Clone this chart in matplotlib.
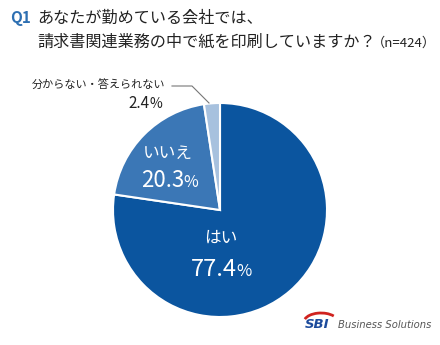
import matplotlib
matplotlib.use("Agg")
import matplotlib.pyplot as plt
from matplotlib.patches import Arc

plt.rcParams["font.family"] = ["Noto Sans CJK JP", "DejaVu Sans"]

labels = ["はい", "いいえ", "分からない・答えられない"]
shares = [77.4, 20.3, 2.4]
colors = ["#0b559f", "#3b77b6", "#a7c1de"]

W, H = 440, 345


def px(x, y):
    return x / W, 1 - y / H


fig = plt.figure(figsize=(W / 100, H / 100), dpi=100)
fig.patch.set_facecolor("white")

# pie: centre (220, 210), radius 107 px
cx, cy, r = 220, 210, 107
ax = fig.add_axes([(cx - r) / W, (H - cy - r) / H, 2 * r / W, 2 * r / H])
ax.pie(shares, colors=colors, startangle=90, counterclock=False,
       wedgeprops=dict(edgecolor="white", linewidth=1.5))
ax.set_xlim(-1, 1)
ax.set_ylim(-1, 1)
ax.set_aspect("equal")
ax.axis(False)

# title
fig.text(*px(10, 18), "Q1", color="#2d6fb2", fontsize=11, fontweight="bold", va="center")
fig.text(*px(37, 18), "あなたが勤めている会社では、", color="#222222", fontsize=11.6, va="center")
fig.text(*px(37, 42), "請求書関連業務の中で紙を印刷していますか？", color="#222222", fontsize=11.6, va="center")
fig.text(*px(372, 43), "（n=424）", color="#222222", fontsize=9.5, va="center")


def pct_label(x, y, value, color, big, small):
    fig.text(*px(x, y), f"{value:.1f}", color=color, fontsize=big, ha="right", va="baseline")
    fig.text(*px(x - 1, y), "%", color=color, fontsize=small, ha="left", va="baseline")


# in-slice labels
fig.text(*px(221, 238), labels[0], color="white", fontsize=12, ha="center", va="center")
pct_label(237, 276, shares[0], "white", 17, 12)
fig.text(*px(168, 153), labels[1], color="white", fontsize=12, ha="center", va="center")
pct_label(184, 187, shares[1], "white", 16, 11.5)

# small slice label with leader line
fig.text(*px(165, 85), labels[2], color="#222222", fontsize=8, ha="right", va="center")
pct_label(150, 108, shares[2], "#222222", 11, 10)
line_ax = fig.add_axes([0, 0, 1, 1], facecolor="none")
line_ax.set_xlim(0, W)
line_ax.set_ylim(H, 0)
line_ax.axis(False)
line_ax.plot([172, 192, 209], [86, 86, 103], color="#777777", lw=0.8)

# logo
line_ax.add_patch(Arc((321, 322), 34, 18, theta1=190, theta2=335, color="#d0231f", lw=2.0))
fig.text(*px(305, 325), "SBI", color="#1c4b9c", fontsize=9.5, fontweight="bold",
         fontstyle="italic", family="DejaVu Sans", va="center")
fig.text(*px(338, 325), "Business Solutions", color="#555555", fontsize=7.2,
         fontstyle="italic", family="DejaVu Sans", va="center")

fig.savefig("out.png", dpi=100)
